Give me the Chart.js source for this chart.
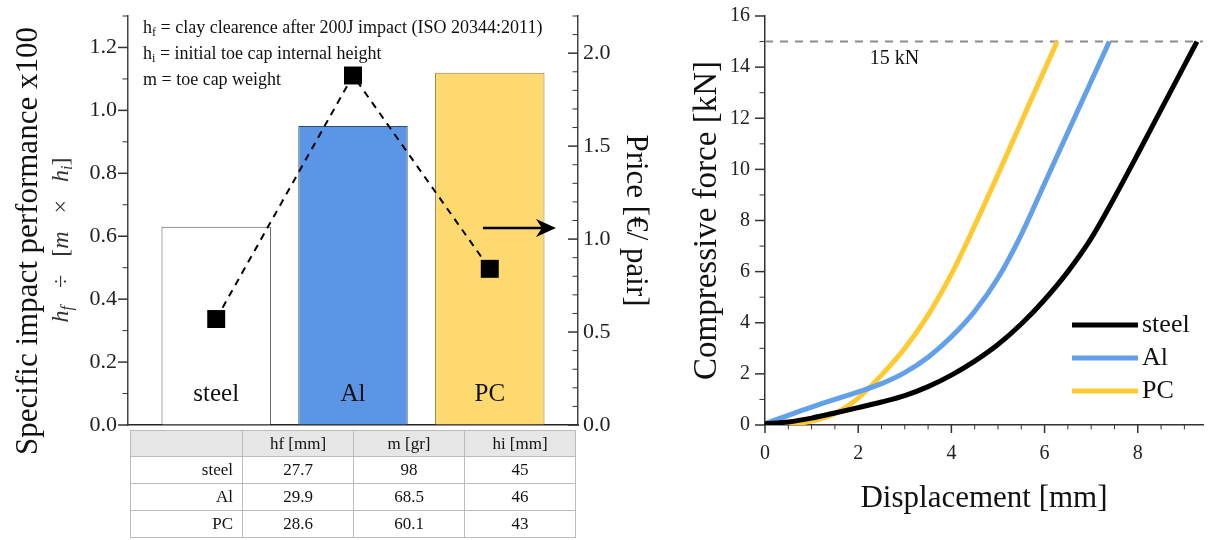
<!DOCTYPE html>
<html>
<head>
<meta charset="utf-8">
<script src="https://cdn.jsdelivr.net/npm/chart.js@4.4.1/dist/chart.umd.min.js"></script>
<style>
body{margin:0;background:#fff;width:1218px;height:540px;position:relative;overflow:hidden;font-family:'Liberation Serif','Times New Roman',serif;color:#111}
#perf{position:absolute;left:0;top:0}
#force{position:absolute;left:680px;top:0}
.note{position:absolute;left:143px;top:14px;font-size:18px;line-height:26px;white-space:nowrap}
.note sub,.rot sub{font-size:0.68em;line-height:0;vertical-align:-0.25em}
.rot{position:absolute;white-space:nowrap;transform:translate(-50%,-50%) rotate(-90deg)}
table{position:absolute;left:130px;top:430px;width:445px;border-collapse:collapse;font-size:17px;border:1.5px solid #777;table-layout:fixed}
td,th{border:1px solid #bbb;text-align:center;padding:0;font-weight:normal;height:26px}
th{background:#e6e6e6;height:25px}
td.lab{text-align:right;padding-right:9px}
</style>
</head>
<body>
<canvas id="perf" width="680" height="445"></canvas>
<canvas id="force" width="538" height="540"></canvas>

<div class="note">h<sub>f</sub> = clay clearence after 200J impact (ISO 20344:2011)<br>h<sub>i</sub> = initial toe cap internal height<br>m = toe cap weight</div>
<div class="rot" style="left:27px;top:241px;font-size:31px">Specific impact performance x100</div>
<div class="rot" style="left:60px;top:240px;font-size:24px;color:#333"><i>h<sub>f</sub></i> &nbsp;&nbsp;÷&nbsp;&nbsp; [<i>m</i> &nbsp;&nbsp;×&nbsp;&nbsp; <i>h<sub>i</sub></i>]</div>

<table id="props"></table>

<script>
const FONT = "'Liberation Serif', 'Times New Roman', serif"
Chart.defaults.font.family = FONT
Chart.defaults.color = '#222'

// left figure: bars + price markers
const materials = ['steel', 'Al', 'PC']
const performance = [0.63, 0.95, 1.12]
const price = [0.57, 1.88, 0.84]
const perfTicks = [0, 0.2, 0.4, 0.6, 0.8, 1.0, 1.2]
const priceTicks = [0, 0.5, 1.0, 1.5, 2.0]

// table under the bars
const tableHeaders = ['', 'hf [mm]', 'm [gr]', 'hi [mm]']
const hf = ['27.7', '29.9', '28.6']
const mass = ['98', '68.5', '60.1']
const hi = ['45', '46', '43']

// right figure: force - displacement curves
const steelDisp = [0, 0.5, 1, 1.5, 2, 2.5, 3, 3.5, 4, 4.5, 5, 5.5, 6, 6.5, 7, 7.5, 8, 8.5, 9, 9.27]
const steelForce = [0.05, 0.12, 0.27, 0.47, 0.68, 0.9, 1.15, 1.5, 1.95, 2.5, 3.15, 3.95, 4.9, 6.0, 7.3, 8.9, 10.6, 12.34, 14.07, 15]
const alDisp = [0, 0.5, 1, 1.5, 2, 2.5, 3, 3.5, 4, 4.5, 5, 5.5, 6, 6.5, 7, 7.39]
const alForce = [0.05, 0.38, 0.7, 1.0, 1.3, 1.62, 2.05, 2.65, 3.45, 4.45, 5.75, 7.45, 9.45, 11.45, 13.45, 15]
const pcDisp = [0, 0.5, 1, 1.5, 2, 2.5, 3, 3.5, 4, 4.5, 5, 5.5, 6, 6.27]
const pcForce = [0, 0.03, 0.15, 0.45, 1.05, 1.95, 3.0, 4.3, 5.9, 7.8, 9.8, 11.85, 13.9, 15]
const limitForce = 15
const dispTicks = [0, 2, 4, 6, 8]
const forceTicks = [0, 2, 4, 6, 8, 10, 12, 14, 16]

const pts = (xs, ys) => xs.map((x, i) => ({x: x, y: ys[i]}))

// table
let rows = '<colgroup><col style="width:112px"><col style="width:111px"><col style="width:111px"><col style="width:111px"></colgroup>'
rows += '<tr>' + tableHeaders.map(h => '<th>' + h + '</th>').join('') + '</tr>'
materials.forEach((m, i) => {
    rows += '<tr><td class="lab">' + m + '</td><td>' + hf[i] + '</td><td>' + mass[i] + '</td><td>' + hi[i] + '</td></tr>'
})
document.getElementById('props').innerHTML = rows

// keep chart.js from shrinking the plot area for label overflow
function fixV(w){ return s => { s.width = w; s.paddingTop = 0; s.paddingBottom = 0 } }
function fixH(h){ return s => { s.height = h; s.paddingLeft = 0; s.paddingRight = 0 } }

// tick marks (major + minor) drawn by hand, chart.js only writes the labels
function drawTickMarks(chart, id, step, major, len, dir){
    const s = chart.scales[id]
    const ctx = chart.ctx
    const n = Math.floor((s.max - s.min) / step + 1e-6)
    ctx.save()
    ctx.strokeStyle = '#333'
    for(let i = 0; i <= n; i++){
        const v = s.min + i * step
        const isMajor = Math.abs(v / major - Math.round(v / major)) < 1e-6
        const l = isMajor ? len : len * 0.55
        ctx.lineWidth = isMajor ? 1.5 : 1
        ctx.beginPath()
        if(s.isHorizontal()){
            const x = s.getPixelForValue(v)
            ctx.moveTo(x, s.top)
            ctx.lineTo(x, s.top + dir * l)
        }else{
            const y = s.getPixelForValue(v)
            const x0 = s.position === 'left' ? s.right : s.left
            ctx.moveTo(x0, y)
            ctx.lineTo(x0 + dir * l, y)
        }
        ctx.stroke()
    }
    ctx.restore()
}

const arrow = {from: 1.95, to: 2.484, price: 1.06}

const perfDecor = {
    id: 'perfDecor',
    afterDraw(chart){
        drawTickMarks(chart, 'y', 0.1, 0.2, 10, -1)
        drawTickMarks(chart, 'y2', 0.1, 0.5, 10, -1)
    },
    afterDatasetsDraw(chart){
        const {ctx, scales: {x, y, y2}} = chart
        ctx.save()
        ctx.font = '25px ' + FONT
        ctx.fillStyle = '#111'
        ctx.textAlign = 'center'
        ctx.textBaseline = 'alphabetic'
        materials.forEach((m, i) => ctx.fillText(m, x.getPixelForValue(i), y.getPixelForValue(0) - 24))

        const ax0 = x.getPixelForValue(arrow.from)
        const ax1 = x.getPixelForValue(arrow.to)
        const ay = y2.getPixelForValue(arrow.price)
        ctx.strokeStyle = '#000'
        ctx.lineWidth = 2.5
        ctx.beginPath()
        ctx.moveTo(ax0, ay)
        ctx.lineTo(ax1 - 12, ay)
        ctx.stroke()
        ctx.fillStyle = '#000'
        ctx.beginPath()
        ctx.moveTo(ax1, ay)
        ctx.lineTo(ax1 - 20, ay - 9)
        ctx.lineTo(ax1 - 14, ay)
        ctx.lineTo(ax1 - 20, ay + 9)
        ctx.closePath()
        ctx.fill()
        ctx.restore()
    }
}

new Chart(document.getElementById('perf'), {
    data: {
        datasets: [
            {
                type: 'line',
                label: 'Price',
                data: pts([0, 1, 2], price),
                yAxisID: 'y2',
                borderColor: '#000',
                borderWidth: 2,
                borderDash: [7, 6],
                pointStyle: 'rect',
                pointRadius: 12.7,
                pointBackgroundColor: '#000',
                pointBorderWidth: 0,
                order: 0
            },
            {
                type: 'bar',
                label: 'Specific impact performance',
                data: pts([0, 1, 2], performance),
                yAxisID: 'y',
                backgroundColor: ['#ffffff', '#5b96e6', '#fed970'],
                borderColor: ['#555555', '#2f4a6e', '#8d7b45'],
                borderWidth: 1,
                barPercentage: 0.8,
                categoryPercentage: 1,
                order: 1
            }
        ]
    },
    options: {
        responsive: false,
        animation: false,
        events: [],
        layout: {autoPadding: false, padding: {top: 16, left: 0, right: 0, bottom: 0}},
        plugins: {legend: {display: false}, tooltip: {enabled: false}},
        scales: {
            x: {
                type: 'linear',
                offset: false,
                min: -0.645,
                max: 2.645,
                grid: {drawOnChartArea: false, drawTicks: false, offset: false},
                ticks: {display: false},
                border: {color: '#222', width: 1.5},
                afterBuildTicks: s => { s.ticks = materials.map((m, i) => ({value: i})) },
                afterFit: fixH(20)
            },
            y: {
                position: 'left',
                min: 0,
                max: 1.3,
                grid: {drawOnChartArea: false, drawTicks: false},
                border: {color: '#444', width: 1.5},
                ticks: {font: {size: 22}, padding: 11, callback: v => v.toFixed(1)},
                afterBuildTicks: s => { s.ticks = perfTicks.map(v => ({value: v})) },
                afterFit: fixV(128)
            },
            y2: {
                position: 'right',
                min: 0,
                max: 2.2,
                grid: {drawOnChartArea: false, drawTicks: false},
                border: {color: '#444', width: 1.5},
                ticks: {font: {size: 22}, padding: 5, callback: v => v.toFixed(1)},
                afterBuildTicks: s => { s.ticks = priceTicks.map(v => ({value: v})) },
                title: {display: true, text: 'Price [€/ pair]', font: {size: 31}, color: '#111', padding: {top: 26}},
                afterFit: fixV(102)
            }
        }
    },
    plugins: [perfDecor]
})

const curveLabels = ['steel', 'Al', 'PC']
const curveColors = ['#000000', '#62a0ea', '#ffc930']
const xMax = 9.4

const forceDecor = {
    id: 'forceDecor',
    afterDraw(chart){
        drawTickMarks(chart, 'y', 1, 2, 10, -1)
        drawTickMarks(chart, 'x', 0.5, 2, 8, 1)
        const {ctx, chartArea, scales: {x, y}} = chart
        ctx.save()
        ctx.fillStyle = '#111'
        ctx.font = '20px ' + FONT
        ctx.textAlign = 'left'
        ctx.textBaseline = 'alphabetic'
        ctx.fillText('15 kN', x.getPixelForValue(2.25), y.getPixelForValue(14.12))

        // legend
        ctx.font = '26px ' + FONT
        ctx.textBaseline = 'middle'
        curveLabels.forEach((lab, i) => {
            const ly = chartArea.top + 309 + i * 33
            const lx = chartArea.right - 131
            ctx.strokeStyle = curveColors[i]
            ctx.lineWidth = 5
            ctx.beginPath()
            ctx.moveTo(lx, ly)
            ctx.lineTo(lx + 66, ly)
            ctx.stroke()
            ctx.fillStyle = '#111'
            ctx.fillText(lab, lx + 70, ly)
        })
        ctx.restore()
    }
}

const curveDefaults = {borderWidth: 5, pointRadius: 0, cubicInterpolationMode: 'monotone', fill: false}

new Chart(document.getElementById('force'), {
    type: 'line',
    data: {
        datasets: [
            Object.assign({label: curveLabels[0], data: pts(steelDisp, steelForce), borderColor: curveColors[0]}, curveDefaults),
            Object.assign({label: curveLabels[1], data: pts(alDisp, alForce), borderColor: curveColors[1]}, curveDefaults),
            Object.assign({label: curveLabels[2], data: pts(pcDisp, pcForce), borderColor: curveColors[2]}, curveDefaults),
            {
                label: '15 kN',
                data: [{x: 0, y: limitForce}, {x: xMax, y: limitForce}],
                borderColor: '#8c8c8c',
                borderWidth: 2,
                borderDash: [8, 7],
                pointRadius: 0,
                order: 5
            }
        ]
    },
    options: {
        responsive: false,
        animation: false,
        events: [],
        layout: {autoPadding: false, padding: {top: 16, right: 15, left: 0, bottom: 0}},
        plugins: {legend: {display: false}, tooltip: {enabled: false}},
        scales: {
            x: {
                type: 'linear',
                min: 0,
                max: xMax,
                grid: {drawOnChartArea: false, drawTicks: false},
                border: {color: '#333', width: 1.5},
                ticks: {font: {size: 20}, padding: 17},
                afterBuildTicks: s => { s.ticks = dispTicks.map(v => ({value: v})) },
                title: {display: true, text: 'Displacement [mm]', font: {size: 31}, color: '#111', padding: {bottom: 23}},
                afterFit: fixH(115)
            },
            y: {
                min: 0,
                max: 16,
                grid: {drawOnChartArea: false, drawTicks: false},
                border: {color: '#333', width: 1.5},
                ticks: {font: {size: 20}, padding: 15},
                afterBuildTicks: s => { s.ticks = forceTicks.map(v => ({value: v})) },
                title: {display: true, text: 'Compressive force [kN]', font: {size: 33}, color: '#111', padding: {top: 8}},
                afterFit: fixV(85)
            }
        }
    },
    plugins: [forceDecor]
})
</script>
</body>
</html>
